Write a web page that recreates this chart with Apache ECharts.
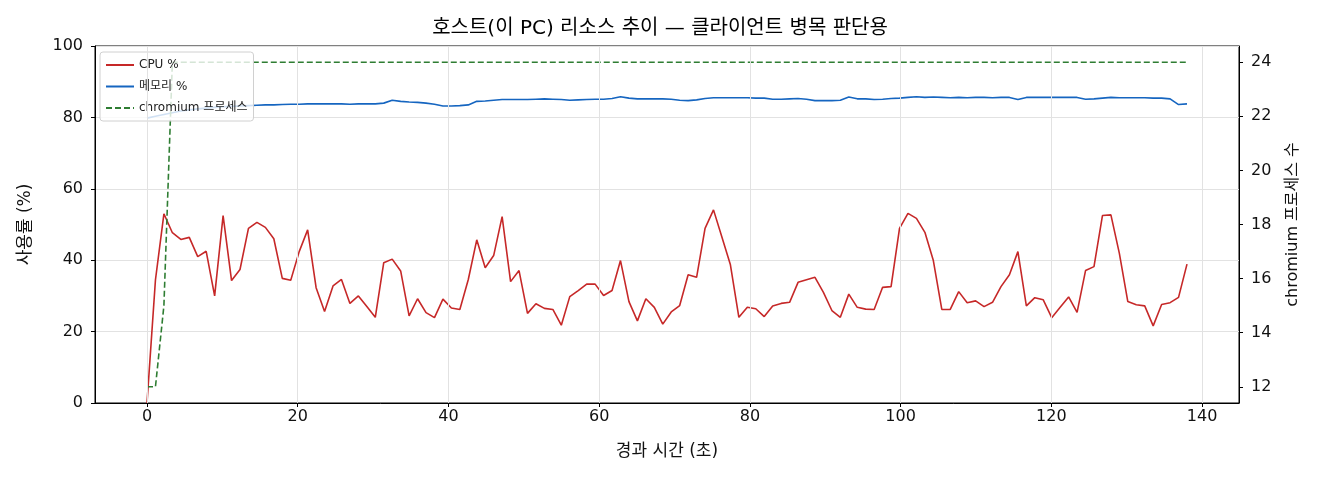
<!DOCTYPE html>
<html>
<head>
<meta charset="utf-8">
<script src="https://cdn.jsdelivr.net/npm/echarts@6/dist/echarts.min.js"></script>
<style>
  html, body { margin: 0; padding: 0; background: #fff; }
  #chart { width: 1320px; height: 480px; }
</style>
</head>
<body>
<div id="chart"></div>
<script>
// one sample roughly every 1.12 s, 124 samples over 138 s
var SAMPLE_SEC = 138 / 123

var cpuPct = [
  0, 34.5, 53, 47.7, 45.8, 46.4, 41, 42.5, 30, 52.5, 34.3, 37.4, 48.9, 50.6, 49.2, 46, 34.9, 34.4, 42.4, 48.5,
  32.3, 25.6, 32.8, 34.6, 27.9, 30, 27, 24, 39.3, 40.3, 37, 24.4, 29.2, 25.3, 23.9, 29.1, 26.6, 26.2, 34.6, 45.7,
  37.9, 41.3, 52.2, 34, 37.1, 25.1, 27.8, 26.5, 26.2, 21.8, 29.8, 31.5, 33.3, 33.3, 30.1, 31.5, 39.9, 28.4, 23, 29.2,
  26.8, 22.1, 25.5, 27.3, 35.9, 35.2, 48.9, 54.1, 46.4, 38.7, 24, 26.8, 26.4, 24.2, 27.2, 27.9, 28.2, 33.8, 34.5, 35.2,
  31, 25.9, 24, 30.5, 26.8, 26.3, 26.2, 32.4, 32.6, 48.9, 53.1, 51.7, 47.8, 39.9, 26.2, 26.2, 31.2, 28.1, 28.6, 27,
  28.2, 32.6, 35.9, 42.4, 27.2, 29.5, 28.9, 23.9, 26.8, 29.7, 25.4, 37.1, 38.2, 52.5, 52.7, 41.9, 28.4, 27.5, 27.2, 21.6,
  27.6, 28.1, 29.6, 38.9
]

var memPct = [
  79.8, 80.3, 80.8, 81.3, 81.8, 82.1, 82.4, 82.6, 82.8, 83.0, 83.1, 83.2, 83.3, 83.4, 83.5, 83.5, 83.6, 83.7, 83.7, 83.8,
  83.8, 83.8, 83.8, 83.8, 83.7, 83.8, 83.8, 83.8, 84.0, 84.8, 84.5, 84.3, 84.2, 84.0, 83.7, 83.2, 83.2, 83.3, 83.5, 84.5,
  84.6, 84.8, 85.0, 85.0, 85.0, 85.0, 85.1, 85.2, 85.1, 85.0, 84.8, 84.9, 85.0, 85.1, 85.1, 85.3, 85.8, 85.4, 85.2, 85.2,
  85.2, 85.2, 85.1, 84.8, 84.7, 84.9, 85.3, 85.5, 85.5, 85.5, 85.5, 85.5, 85.4, 85.4, 85.1, 85.1, 85.2, 85.3, 85.1, 84.7,
  84.7, 84.7, 84.8, 85.7, 85.2, 85.2, 85.0, 85.1, 85.3, 85.4, 85.6, 85.8, 85.6, 85.7, 85.6, 85.5, 85.6, 85.5, 85.6, 85.6,
  85.5, 85.6, 85.6, 85.0, 85.6, 85.6, 85.6, 85.6, 85.6, 85.6, 85.6, 85.1, 85.2, 85.4, 85.6, 85.5, 85.5, 85.5, 85.5, 85.4,
  85.4, 85.2, 83.6, 83.8
]

var procCount = [
  12, 12, 15, 24, 24, 24, 24, 24, 24, 24, 24, 24, 24, 24, 24, 24, 24, 24, 24, 24,
  24, 24, 24, 24, 24, 24, 24, 24, 24, 24, 24, 24, 24, 24, 24, 24, 24, 24, 24, 24,
  24, 24, 24, 24, 24, 24, 24, 24, 24, 24, 24, 24, 24, 24, 24, 24, 24, 24, 24, 24,
  24, 24, 24, 24, 24, 24, 24, 24, 24, 24, 24, 24, 24, 24, 24, 24, 24, 24, 24, 24,
  24, 24, 24, 24, 24, 24, 24, 24, 24, 24, 24, 24, 24, 24, 24, 24, 24, 24, 24, 24,
  24, 24, 24, 24, 24, 24, 24, 24, 24, 24, 24, 24, 24, 24, 24, 24, 24, 24, 24, 24,
  24, 24, 24, 24
]

var xTicks = [0, 20, 40, 60, 80, 100, 120, 140]
var procTicks = [12, 14, 16, 18, 20, 22, 24]

// DejaVu for latin/digits, Korean falls through to Noto CJK
var FONT = '"DejaVu Sans", "Noto Sans CJK KR", sans-serif'

function pairs (vals) {
  return vals.map(function (v, i) { return [i * SAMPLE_SEC, v] })
}

var chart = echarts.init(document.getElementById('chart'), null, { renderer: 'canvas' })

chart.setOption({
  animation: false,
  textStyle: { fontFamily: FONT },
  title: {
    text: '호스트(이 PC) 리소스 추이 — 클라이언트 병목 판단용',
    left: 'center',
    top: 14,
    textStyle: { fontFamily: FONT, fontSize: 20, fontWeight: 'normal', color: '#000' }
  },
  grid: {
    left: 95,
    right: 81,
    top: 46,
    bottom: 77,
    show: true,
    borderColor: '#000',
    borderWidth: 1,
    backgroundColor: 'transparent'
  },
  legend: {
    data: ['CPU %', '메모리 %', 'chromium 프로세스'],
    orient: 'vertical',
    left: 100,
    top: 52,
    padding: [7, 6, 7, 5],
    itemWidth: 28,
    itemHeight: 13,
    itemGap: 9.5,
    backgroundColor: 'rgba(255,255,255,0.8)',
    borderColor: '#d0d0d0',
    borderWidth: 1,
    borderRadius: 3,
    itemStyle: { opacity: 0 },
    textStyle: { fontFamily: FONT, fontSize: 12, color: '#222' }
  },
  xAxis: {
    type: 'value',
    min: -6.9,
    max: 144.9,
    name: '경과 시간 (초)',
    nameLocation: 'middle',
    nameGap: 40,
    nameTextStyle: { fontFamily: FONT, fontSize: 17, color: '#111' },
    axisLine: { show: true, onZero: false, lineStyle: { color: '#000', width: 1 } },
    axisTick: { show: true, length: 4, customValues: xTicks, lineStyle: { color: '#000' } },
    axisLabel: { customValues: xTicks, margin: 6, fontSize: 16, color: '#111', fontFamily: FONT },
    splitLine: { show: false }
  },
  yAxis: [
    {
      type: 'value',
      min: 0,
      max: 100,
      interval: 20,
      name: '사용률 (%)',
      nameLocation: 'middle',
      nameGap: 61,
      nameTextStyle: { fontFamily: FONT, fontSize: 17, color: '#111' },
      axisLine: { show: true, onZero: false, lineStyle: { color: '#000', width: 1 } },
      axisTick: { show: true, length: 4, lineStyle: { color: '#000' } },
      axisLabel: { margin: 12, fontSize: 16, color: '#111', fontFamily: FONT },
      splitLine: { show: true, lineStyle: { color: '#e2e2e2', width: 1 } }
    },
    {
      type: 'value',
      position: 'right',
      min: 11.4,
      max: 24.6,
      name: 'chromium 프로세스 수',
      nameLocation: 'middle',
      nameGap: 46,
      nameTextStyle: { fontFamily: FONT, fontSize: 16, color: '#111' },
      axisLine: { show: true, onZero: false, lineStyle: { color: '#000', width: 1 } },
      axisTick: { show: true, length: 4, customValues: procTicks, lineStyle: { color: '#000' } },
      axisLabel: { customValues: procTicks, margin: 12, fontSize: 16, color: '#111', fontFamily: FONT },
      splitLine: { show: false }
    }
  ],
  series: [
    {
      // vertical grid lines at the x ticks
      type: 'line',
      data: [],
      z: 1,
      silent: true,
      markLine: {
        silent: true,
        symbol: ['none', 'none'],
        label: { show: false },
        lineStyle: { color: '#e2e2e2', width: 1, type: 'solid' },
        data: xTicks.map(function (v) { return { xAxis: v } })
      }
    },
    {
      name: 'CPU %',
      type: 'line',
      z: 3,
      symbol: 'none',
      color: '#c62828',
      lineStyle: { width: 1.6 },
      data: pairs(cpuPct)
    },
    {
      name: '메모리 %',
      type: 'line',
      z: 3,
      symbol: 'none',
      color: '#1565c0',
      lineStyle: { width: 1.6 },
      data: pairs(memPct)
    },
    {
      name: 'chromium 프로세스',
      type: 'line',
      yAxisIndex: 1,
      z: 3,
      symbol: 'none',
      color: '#2e7d32',
      lineStyle: { width: 1.6, type: [6, 3] },
      data: pairs(procCount)
    }
  ]
})
</script>
</body>
</html>
